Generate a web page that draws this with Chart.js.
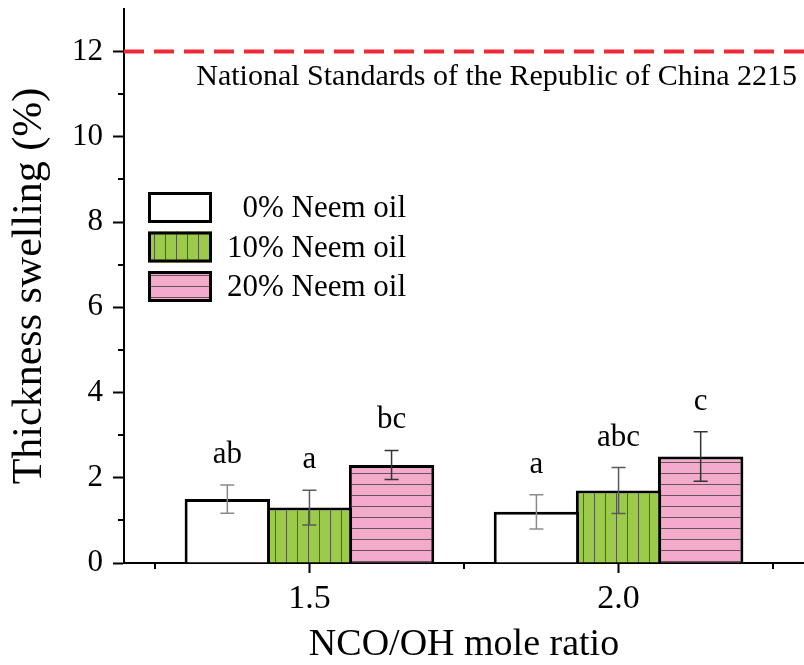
<!DOCTYPE html>
<html lang="en">
<head>
  <meta charset="UTF-8" />
  <title>Thickness swelling</title>
  <script src="https://cdn.jsdelivr.net/npm/chart.js"></script>
  <style>
    html, body { margin: 0; padding: 0; background: #fff; }
    #wrap { width: 804px; height: 665px; }
  </style>
</head>
<body>
  <div id="wrap"><canvas id="swellChart" width="804" height="665"></canvas></div>
  <script>
    // data
    const ratios = [1.5, 2.0];
    const seriesNames = ["0% Neem oil", "10% Neem oil", "20% Neem oil"];
    const swelling0 = [1.5, 1.2];
    const swelling10 = [1.3, 1.7];
    const swelling20 = [2.3, 2.5];
    const err0 = [0.33, 0.40];
    const err10 = [0.41, 0.54];
    const err20 = [0.34, 0.58];
    const letters0 = ["ab", "a"];
    const letters10 = ["a", "abc"];
    const letters20 = ["bc", "c"];
    const yTicks = [0, 2, 4, 6, 8, 10, 12];
    const yMinor = [1, 3, 5, 7, 9, 11];
    const xMinor = [1.25, 1.75, 2.25];
    const standardValue = 12;
    const standardLabel = "National Standards of the Republic of China 2215";

    const serif = '"Liberation Serif", "Times New Roman", serif';
    Chart.defaults.font.family = serif;
    Chart.defaults.color = "#000";

    function stripes(bg, vertical) {
      const c = document.createElement("canvas");
      c.width = 11; c.height = 11;
      const g = c.getContext("2d");
      g.fillStyle = bg;
      g.fillRect(0, 0, 11, 11);
      g.fillStyle = "rgba(55,55,55,0.75)";
      if (vertical) g.fillRect(0, 0, 1, 11);
      else g.fillRect(0, 0, 11, 1);
      return g.createPattern(c, "repeat");
    }

    const fills = ["#ffffff", stripes("#9ccb4c", true), stripes("#f4abcb", false)];
    const whiskerColors = ["#8a8a8a", "#5a5a5a", "#333333"];
    const values = [swelling0, swelling10, swelling20];
    const errors = [err0, err10, err20];
    const letters = [letters0, letters10, letters20];

    // error bars, letters, dashed standard line, minor ticks and legend
    const extras = {
      id: "extras",
      afterDatasetsDraw(chart) {
        const { ctx, chartArea: area, scales: { x, y } } = chart;
        ctx.save();

        values.forEach((vals, i) => {
          const meta = chart.getDatasetMeta(i);
          vals.forEach((v, j) => {
            const cx = meta.data[j].x;
            const top = y.getPixelForValue(v + errors[i][j]);
            const bot = y.getPixelForValue(v - errors[i][j]);
            ctx.strokeStyle = whiskerColors[i];
            ctx.lineWidth = 1.5;
            ctx.beginPath();
            ctx.moveTo(cx, top); ctx.lineTo(cx, bot);
            ctx.moveTo(cx - 7, top); ctx.lineTo(cx + 7, top);
            ctx.moveTo(cx - 7, bot); ctx.lineTo(cx + 7, bot);
            ctx.stroke();

            ctx.fillStyle = "#000";
            ctx.font = "31px " + serif;
            ctx.textAlign = "center";
            ctx.textBaseline = "alphabetic";
            ctx.fillText(letters[i][j], cx, top - 22);
          });
        });

        // standard line
        const sy = y.getPixelForValue(standardValue);
        ctx.strokeStyle = "#ee2a36";
        ctx.lineWidth = 4;
        ctx.setLineDash([20, 10]);
        ctx.beginPath();
        ctx.moveTo(area.left, sy); ctx.lineTo(area.right, sy);
        ctx.stroke();
        ctx.setLineDash([]);
        ctx.fillStyle = "#000";
        ctx.font = "30px " + serif;
        ctx.textAlign = "right";
        ctx.fillText(standardLabel, area.right - 7, sy + 33);

        // minor ticks
        ctx.strokeStyle = "#000";
        ctx.lineWidth = 2;
        ctx.beginPath();
        yMinor.forEach(v => {
          const py = Math.round(y.getPixelForValue(v));
          ctx.moveTo(area.left - 6, py); ctx.lineTo(area.left, py);
        });
        xMinor.forEach(v => {
          const px = Math.round(x.getPixelForValue(v));
          ctx.moveTo(px, area.bottom); ctx.lineTo(px, area.bottom + 6);
        });
        ctx.stroke();

        // legend
        const lx = area.left + 24, ly = area.top + 183;
        seriesNames.forEach((name, i) => {
          const by = ly + i * 39.5;
          ctx.fillStyle = fills[i];
          ctx.fillRect(lx, by, 64, 31);
          ctx.strokeStyle = "#000";
          ctx.lineWidth = 3;
          ctx.strokeRect(lx + 1.5, by + 1.5, 61, 28);
          ctx.fillStyle = "#000";
          ctx.font = "31px " + serif;
          ctx.textAlign = "right";
          ctx.textBaseline = "middle";
          ctx.fillText(name, lx + 258, by + 17);
        });

        ctx.restore();
      }
    };

    const ctx = document.getElementById("swellChart").getContext("2d");
    new Chart(ctx, {
      type: "bar",
      data: {
        datasets: values.map((vals, i) => ({
          label: seriesNames[i],
          data: ratios.map((r, j) => ({ x: r, y: vals[j] })),
          backgroundColor: fills[i],
          borderColor: "#000",
          borderWidth: 3,
          borderSkipped: "start",
          categoryPercentage: 0.797,
          barPercentage: 1.04
        }))
      },
      options: {
        responsive: false,
        animation: false,
        layout: { padding: { top: 9, right: 0, bottom: 0, left: 0 } },
        plugins: { legend: { display: false }, tooltip: { enabled: false } },
        scales: {
          x: {
            type: "linear",
            min: 1.2,
            max: 2.3,
            offset: false,
            afterBuildTicks: scale => { scale.ticks = ratios.map(v => ({ value: v })); },
            afterFit: scale => { scale.height = 102; },
            ticks: {
              callback: v => Number(v).toFixed(1),
              font: { size: 34 },
              color: "#000",
              padding: 6,
              maxRotation: 0
            },
            grid: { offset: false, drawOnChartArea: false, tickLength: 10, tickColor: "#000", tickWidth: 2 },
            border: { color: "#000", width: 2 },
            title: {
              display: true,
              text: "NCO/OH mole ratio",
              color: "#000",
              font: { size: 38, lineHeight: 1.05 },
              padding: { top: 0, bottom: 0 }
            }
          },
          y: {
            min: 0,
            max: 13,
            afterBuildTicks: scale => { scale.ticks = yTicks.map(v => ({ value: v })); },
            afterFit: scale => {
              scale.width = 124;
              scale.paddingTop = 0;
              scale.paddingBottom = 0;
            },
            ticks: { font: { size: 31 }, color: "#000", padding: 10 },
            grid: { drawOnChartArea: false, tickLength: 11, tickColor: "#000", tickWidth: 2 },
            border: { color: "#000", width: 2 },
            title: {
              display: true,
              text: "Thickness swelling (%)",
              color: "#000",
              font: { size: 42 },
              padding: { top: 5, bottom: 0 }
            }
          }
        }
      },
      plugins: [extras]
    });
  </script>
</body>
</html>
